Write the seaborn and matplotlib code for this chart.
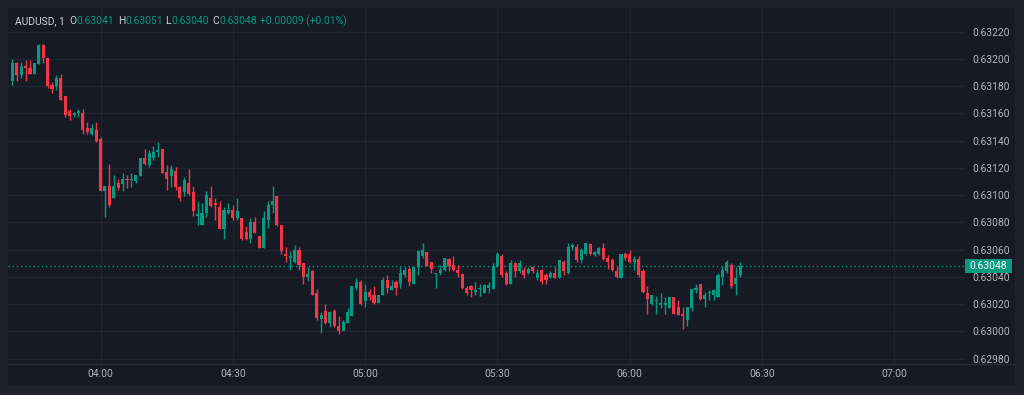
import numpy as np
import pandas as pd
import matplotlib
matplotlib.use("Agg")
import matplotlib.pyplot as plt
import seaborn as sns
from matplotlib.patches import Rectangle

# ---------------- data ----------------
start_time = "2024-01-01 03:40"
opens = [
    0.63184, 0.63197, 0.63188, 0.63195, 0.63193, 0.63189, 0.63196, 0.63210, 0.63201, 0.63181,
    0.63180, 0.63186, 0.63173, 0.63162, 0.63159, 0.63160, 0.63160, 0.63149, 0.63145, 0.63148,
    0.63141, 0.63103, 0.63107, 0.63098, 0.63109, 0.63108, 0.63112, 0.63111, 0.63110, 0.63114,
    0.63127, 0.63122, 0.63127, 0.63132, 0.63134, 0.63117, 0.63114, 0.63118, 0.63106, 0.63102,
    0.63109, 0.63102, 0.63085, 0.63078, 0.63087, 0.63098, 0.63094, 0.63091, 0.63075, 0.63087,
    0.63089, 0.63083, 0.63083, 0.63073, 0.63068, 0.63080, 0.63070, 0.63061, 0.63082, 0.63093,
    0.63099, 0.63078, 0.63057, 0.63054, 0.63051, 0.63060, 0.63050, 0.63040, 0.63044, 0.63028,
    0.63009, 0.63015, 0.63006, 0.63015, 0.63004, 0.63000, 0.63006, 0.63011, 0.63032, 0.63036,
    0.63022, 0.63029, 0.63027, 0.63021, 0.63027, 0.63038, 0.63030, 0.63036, 0.63035, 0.63041,
    0.63046, 0.63035, 0.63047, 0.63055, 0.63058, 0.63051, 0.63042, 0.63043, 0.63045, 0.63053,
    0.63049, 0.63045, 0.63042, 0.63032, 0.63033, 0.63029, 0.63031, 0.63028, 0.63032, 0.63031,
    0.63048, 0.63055, 0.63043, 0.63035, 0.63050, 0.63044, 0.63045, 0.63043, 0.63047, 0.63039,
    0.63045, 0.63041, 0.63040, 0.63043, 0.63039, 0.63051, 0.63043, 0.63062, 0.63062, 0.63052,
    0.63057, 0.63064, 0.63056, 0.63057, 0.63061, 0.63054, 0.63052, 0.63044, 0.63039, 0.63057,
    0.63057, 0.63051, 0.63053, 0.63044, 0.63028, 0.63020, 0.63022, 0.63019, 0.63019, 0.63017,
    0.63025, 0.63018, 0.63013, 0.63008, 0.63017, 0.63030, 0.63035, 0.63024, 0.63028, 0.63027,
    0.63025, 0.63040, 0.63044, 0.63049, 0.63035, 0.63041,
]
highs = [
    0.63200, 0.63198, 0.63198, 0.63199, 0.63199, 0.63197, 0.63211, 0.63211, 0.63201, 0.63183,
    0.63188, 0.63189, 0.63173, 0.63163, 0.63161, 0.63163, 0.63163, 0.63154, 0.63152, 0.63154,
    0.63143, 0.63107, 0.63123, 0.63115, 0.63112, 0.63116, 0.63115, 0.63116, 0.63115, 0.63127,
    0.63134, 0.63133, 0.63136, 0.63139, 0.63134, 0.63122, 0.63122, 0.63121, 0.63107, 0.63113,
    0.63119, 0.63107, 0.63096, 0.63094, 0.63103, 0.63107, 0.63098, 0.63096, 0.63091, 0.63094,
    0.63093, 0.63098, 0.63083, 0.63077, 0.63083, 0.63084, 0.63070, 0.63088, 0.63096, 0.63107,
    0.63099, 0.63078, 0.63062, 0.63059, 0.63063, 0.63062, 0.63050, 0.63047, 0.63045, 0.63031,
    0.63014, 0.63020, 0.63015, 0.63016, 0.63011, 0.63008, 0.63017, 0.63033, 0.63039, 0.63038,
    0.63035, 0.63031, 0.63033, 0.63027, 0.63040, 0.63041, 0.63038, 0.63038, 0.63047, 0.63047,
    0.63047, 0.63047, 0.63060, 0.63065, 0.63058, 0.63051, 0.63043, 0.63049, 0.63054, 0.63054,
    0.63055, 0.63049, 0.63043, 0.63033, 0.63034, 0.63036, 0.63035, 0.63035, 0.63036, 0.63050,
    0.63058, 0.63057, 0.63044, 0.63052, 0.63051, 0.63052, 0.63047, 0.63047, 0.63048, 0.63046,
    0.63046, 0.63043, 0.63044, 0.63047, 0.63052, 0.63052, 0.63065, 0.63065, 0.63064, 0.63061,
    0.63065, 0.63065, 0.63059, 0.63062, 0.63065, 0.63056, 0.63054, 0.63047, 0.63057, 0.63058,
    0.63060, 0.63055, 0.63055, 0.63046, 0.63033, 0.63027, 0.63026, 0.63028, 0.63025, 0.63025,
    0.63025, 0.63023, 0.63018, 0.63018, 0.63031, 0.63035, 0.63035, 0.63029, 0.63030, 0.63031,
    0.63043, 0.63048, 0.63052, 0.63050, 0.63047, 0.63051,
]
lows = [
    0.63181, 0.63184, 0.63186, 0.63184, 0.63189, 0.63189, 0.63196, 0.63197, 0.63179, 0.63175,
    0.63177, 0.63170, 0.63157, 0.63155, 0.63157, 0.63157, 0.63145, 0.63145, 0.63144, 0.63139,
    0.63103, 0.63084, 0.63091, 0.63098, 0.63104, 0.63103, 0.63105, 0.63106, 0.63109, 0.63114,
    0.63122, 0.63121, 0.63126, 0.63128, 0.63116, 0.63104, 0.63106, 0.63104, 0.63096, 0.63099,
    0.63100, 0.63085, 0.63078, 0.63078, 0.63084, 0.63091, 0.63082, 0.63075, 0.63068, 0.63086,
    0.63082, 0.63082, 0.63067, 0.63067, 0.63065, 0.63072, 0.63061, 0.63061, 0.63076, 0.63087,
    0.63077, 0.63057, 0.63051, 0.63045, 0.63050, 0.63045, 0.63035, 0.63037, 0.63027, 0.63008,
    0.62999, 0.63005, 0.63003, 0.63003, 0.62998, 0.63000, 0.63006, 0.63011, 0.63030, 0.63019,
    0.63018, 0.63023, 0.63020, 0.63021, 0.63027, 0.63028, 0.63030, 0.63027, 0.63032, 0.63040,
    0.63033, 0.63035, 0.63041, 0.63054, 0.63048, 0.63043, 0.63032, 0.63041, 0.63044, 0.63044,
    0.63044, 0.63040, 0.63031, 0.63027, 0.63025, 0.63027, 0.63026, 0.63028, 0.63028, 0.63031,
    0.63047, 0.63040, 0.63034, 0.63035, 0.63040, 0.63043, 0.63039, 0.63042, 0.63043, 0.63038,
    0.63035, 0.63035, 0.63039, 0.63039, 0.63039, 0.63041, 0.63042, 0.63060, 0.63051, 0.63050,
    0.63056, 0.63056, 0.63055, 0.63056, 0.63052, 0.63046, 0.63044, 0.63039, 0.63039, 0.63052,
    0.63050, 0.63045, 0.63040, 0.63028, 0.63013, 0.63019, 0.63013, 0.63017, 0.63013, 0.63017,
    0.63013, 0.63012, 0.63002, 0.63004, 0.63015, 0.63028, 0.63023, 0.63018, 0.63023, 0.63023,
    0.63025, 0.63034, 0.63043, 0.63032, 0.63027, 0.63040,
]
closes = [
    0.63197, 0.63188, 0.63195, 0.63193, 0.63189, 0.63197, 0.63210, 0.63201, 0.63180, 0.63178,
    0.63186, 0.63170, 0.63159, 0.63158, 0.63160, 0.63162, 0.63148, 0.63146, 0.63149, 0.63140,
    0.63103, 0.63107, 0.63093, 0.63107, 0.63105, 0.63112, 0.63111, 0.63112, 0.63115, 0.63127,
    0.63123, 0.63131, 0.63132, 0.63133, 0.63116, 0.63112, 0.63119, 0.63106, 0.63098, 0.63111,
    0.63101, 0.63088, 0.63086, 0.63087, 0.63100, 0.63092, 0.63093, 0.63075, 0.63089, 0.63089,
    0.63083, 0.63088, 0.63068, 0.63068, 0.63080, 0.63072, 0.63061, 0.63083, 0.63093, 0.63096,
    0.63078, 0.63059, 0.63055, 0.63055, 0.63060, 0.63049, 0.63040, 0.63042, 0.63027, 0.63010,
    0.63012, 0.63006, 0.63014, 0.63004, 0.63000, 0.63007, 0.63014, 0.63033, 0.63036, 0.63020,
    0.63029, 0.63025, 0.63021, 0.63027, 0.63038, 0.63032, 0.63033, 0.63032, 0.63043, 0.63045,
    0.63036, 0.63047, 0.63059, 0.63060, 0.63048, 0.63046, 0.63043, 0.63045, 0.63054, 0.63048,
    0.63045, 0.63043, 0.63032, 0.63028, 0.63030, 0.63030, 0.63032, 0.63034, 0.63034, 0.63048,
    0.63057, 0.63041, 0.63035, 0.63050, 0.63044, 0.63050, 0.63041, 0.63046, 0.63044, 0.63043,
    0.63036, 0.63038, 0.63043, 0.63039, 0.63052, 0.63044, 0.63062, 0.63063, 0.63052, 0.63060,
    0.63065, 0.63057, 0.63058, 0.63061, 0.63053, 0.63051, 0.63045, 0.63040, 0.63057, 0.63054,
    0.63051, 0.63053, 0.63041, 0.63029, 0.63024, 0.63027, 0.63023, 0.63021, 0.63021, 0.63025,
    0.63013, 0.63012, 0.63011, 0.63018, 0.63031, 0.63032, 0.63024, 0.63027, 0.63029, 0.63030,
    0.63041, 0.63045, 0.63051, 0.63033, 0.63039, 0.63048,
]
time_ticks = ["04:00", "04:30", "05:00", "05:30", "06:00", "06:30", "07:00"]
price_ticks = [0.62980, 0.63000, 0.63020, 0.63040, 0.63060, 0.63080, 0.63100,
               0.63120, 0.63140, 0.63160, 0.63180, 0.63200, 0.63220]
symbol = "AUDUSD, 1"
last_o, last_h, last_l, last_c = 0.63041, 0.63051, 0.63040, 0.63048
change_txt = "+0.00009 (+0.01%)"

# ---------------- styling ----------------
W, H = 1024, 395
OUTER = "#1e222d"
BG = "#161a25"
GRID = "#212531"
TXT = "#b2b5be"
UP = "#089981"
DOWN = "#f23645"

sns.set_theme(style="dark")
plt.rcParams["font.family"] = ["Roboto", "DejaVu Sans"]

times = pd.date_range(start_time, periods=len(opens), freq="min")
t0 = pd.Timestamp(start_time)
df = pd.DataFrame({"time": times, "open": opens, "high": highs,
                   "low": lows, "close": closes})
df["x"] = (df["time"] - t0).dt.total_seconds() / 60.0
df["up"] = df["close"] >= df["open"]
df["color"] = np.where(df["up"], UP, DOWN)
df["bottom"] = df[["open", "close"]].min(axis=1)
df["height"] = (df["open"] - df["close"]).abs().clip(lower=0.0000075)

fig = plt.figure(figsize=(W / 100, H / 100), dpi=100, facecolor=OUTER)

def fx(px):
    return px / W

def fy(py):
    return 1 - py / H

# panel background (behind everything)
fig.patches.append(Rectangle((fx(8), fy(386)), fx(1015) - fx(8), fy(8) - fy(386),
                             transform=fig.transFigure, facecolor=BG,
                             edgecolor="none", zorder=-10))

ax = fig.add_axes([fx(8), fy(363), fx(965) - fx(8), fy(8) - fy(363)])
ax.set_zorder(1)
ax.set_facecolor(BG)

# grid
for p in price_ticks:
    ax.axhline(p, color=GRID, lw=1, zorder=0)
tick_pos = [((pd.Timestamp(start_time[:11] + t) - t0).total_seconds() / 60.0) for t in time_ticks]
for xp in tick_pos:
    ax.axvline(xp, color=GRID, lw=1, zorder=0)

# candles
ax.vlines(df["x"], df["low"], df["high"], colors=df["color"], lw=1.0, zorder=2)
ax.bar(df["x"], df["height"], bottom=df["bottom"], width=0.7,
       color=df["color"], linewidth=0, zorder=3)

# last price line
ax.axhline(last_c, color=UP, lw=1, ls=(0, (1, 2)), zorder=1)

ax.set_xlim(-0.98, 216.0)
ax.set_ylim(0.629767, 0.632374)

ax.set_xticks(tick_pos)
ax.set_xticklabels(time_ticks)
ax.set_yticks(price_ticks)
ax.set_yticklabels([f"{p:.5f}" for p in price_ticks])
ax.yaxis.tick_right()
ax.tick_params(axis="y", length=0, pad=5.5, labelsize=7.4, labelcolor=TXT)
ax.tick_params(axis="x", length=0, pad=4.5, labelsize=7.4, labelcolor=TXT)
for s in ax.spines.values():
    s.set_visible(False)
ax.grid(False)

# time axis separator
fig.add_artist(plt.Line2D([fx(8), fx(1015)], [fy(363.5), fy(363.5)],
                          transform=fig.transFigure, color="#2a2e39", lw=1, zorder=2))

# last price label
fig.patches.append(Rectangle((fx(965), fy(273)), fx(1012) - fx(965), fy(259) - fy(273),
                             transform=fig.transFigure, facecolor=UP,
                             edgecolor="none", zorder=5))
fig.text(fx(988.5), fy(266), f"{last_c:.5f}", color="white", fontsize=7.4,
         ha="center", va="center", zorder=6)

# header legend
hy = fy(21)
LBL = "#d1d4dc"
pieces = [
    (15, symbol, LBL),
    (69, "O", LBL), (76.5, f"{last_o:.5f}", UP),
    (118, "H", LBL), (125, f"{last_h:.5f}", UP),
    (165.5, "L", LBL), (171, f"{last_l:.5f}", UP),
    (212, "C", LBL), (219, f"{last_c:.5f}", UP),
    (260, change_txt, UP),
]
for px, s, c in pieces:
    fig.text(fx(px), hy, s, color=c, fontsize=7.4, ha="left", va="center", zorder=6)

fig.savefig("out.png", dpi=100, facecolor=OUTER)
